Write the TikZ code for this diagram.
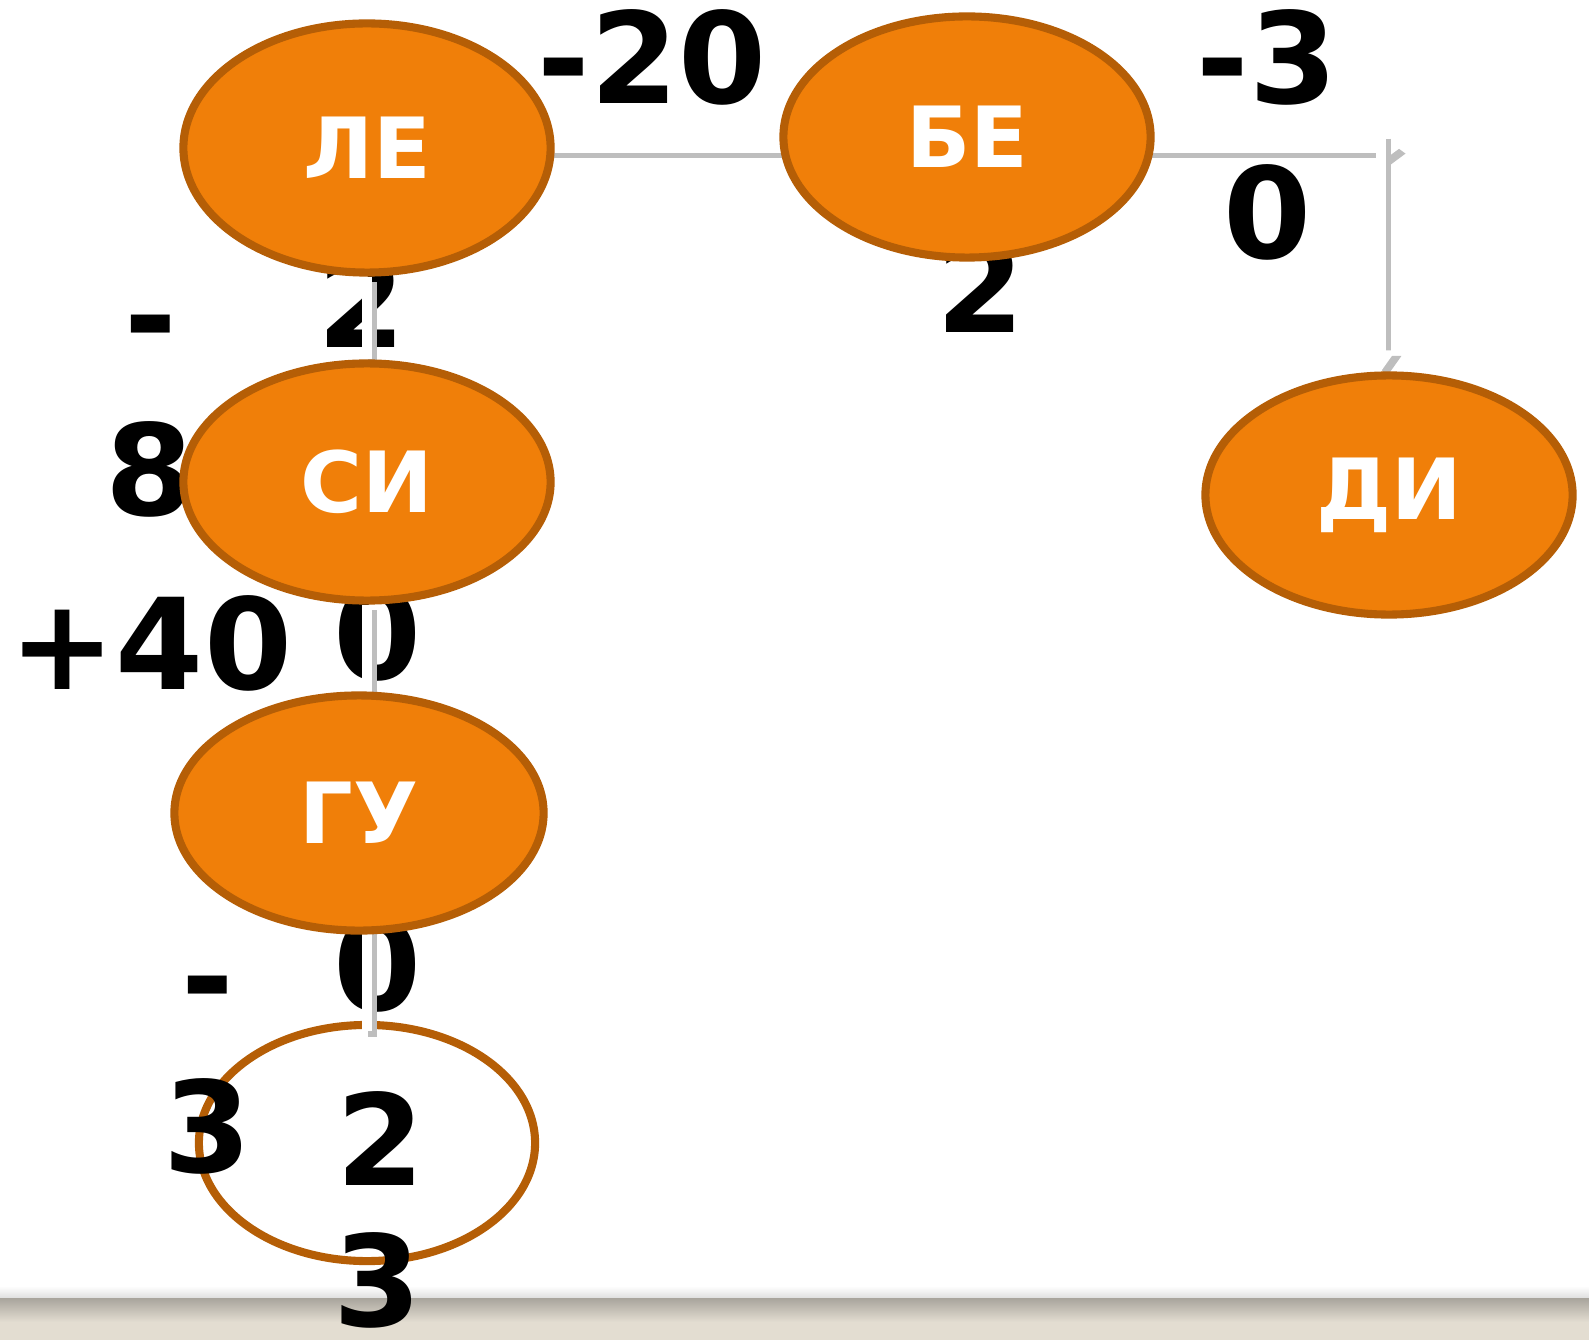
\documentclass[tikz,border=0pt]{standalone}
\usepackage{fontspec}
\setmainfont{DejaVu Sans}
\usetikzlibrary{shapes.geometric,arrows.meta}
\definecolor{fillorange}{RGB}{240,127,9}
\definecolor{lineorange}{RGB}{181,94,6}
\definecolor{shadowgray}{RGB}{190,190,190}
\definecolor{bargray}{RGB}{168,164,156}
\definecolor{barbeige}{RGB}{227,221,209}
\pgfdeclarelayer{back}
\pgfdeclarelayer{mid}
\pgfsetlayers{back,mid,main}

\begin{document}
\begin{tikzpicture}[x=0.01cm,y=-0.01cm,
  oval/.style={ellipse,draw=lineorange,line width=2.3pt,inner sep=0pt,fill=fillorange,text=white,font=\fontsize{24}{29}\selectfont\bfseries},
  num/.style={anchor=base,inner sep=0pt,font=\fontsize{36}{43}\selectfont\bfseries},
  conn/.style={draw=white,line width=2.6pt,preaction={draw=shadowgray,line width=2.4pt,transform canvas={xshift=1.6pt,yshift=-1.6pt}}}]
  \useasboundingbox (0,0) rectangle (1589,1340);

  % ovals
  \node[oval, minimum width=3.67cm, minimum height=2.49cm] (le) at (367,148) {ЛЕ};
  \node[oval, minimum width=3.67cm, minimum height=2.41cm] (be) at (967,137) {БЕ};
  \node[oval, minimum width=3.67cm, minimum height=2.37cm] (si) at (367,482) {СИ};
  \node[oval, minimum width=3.69cm, minimum height=2.35cm] (gu) at (359,813) {ГУ};
  \node[oval, minimum width=3.67cm, minimum height=2.39cm] (di) at (1389,495) {ДИ};

  \begin{pgfonlayer}{back}
    % bottom bar
    \shade[top color=white, bottom color=shadowgray!50] (0,1286) rectangle (1589,1298);
    \shade[top color=bargray, bottom color=barbeige] (0,1298) rectangle (1589,1322);
    \fill[barbeige] (0,1322) rectangle (1589,1340);
    \node[oval, fill=white, minimum width=3.36cm, minimum height=2.36cm] (bot) at (367,1143) {};
    % numbers
    \node[num] (m20) at (652,104) {-20};
    \node[num] (m3) at (1267,104) {-3};
    \node[num] (z1) at (1268,259) {0};
    \node[num] (t1) at (981,333) {2};
    \node[num] (t2) at (362,348) {2};
    \node[num] (d1) at (151,361) {-};
    \node[num] (e1) at (150,515) {8};
    \node[num] (p40) at (151,689) {+40};
    \node[num] (z2) at (378,679) {0};
    \node[num] (d2) at (208,1021) {-};
    \node[num] (th1) at (208,1172) {3};
    \node[num] (z3) at (378,1010) {0};
    \node[num] (t3) at (381,1185) {2};
    \node[num] (th2) at (378,1326) {3};
  \end{pgfonlayer}

  \begin{pgfonlayer}{mid}
    \coordinate (bend) at (1400,148);
    \coordinate (drop) at (1381,133);
    \draw[conn] (le.center) -- (le.center -| be.center);
    \draw[conn, -{Triangle[width=7pt,length=5pt]}] (be.center |- bend) -- (bend);
    \draw[conn, -{Triangle[width=8pt,length=6pt]}] (drop) -- (drop |- di.north);
    \draw[conn] (le) -- (si);
    \draw[conn] (si) -- (si |- gu);
    \draw[conn] (gu.center -| bot) -- ([yshift=-3pt]bot.north);
  \end{pgfonlayer}
\end{tikzpicture}
\end{document}
